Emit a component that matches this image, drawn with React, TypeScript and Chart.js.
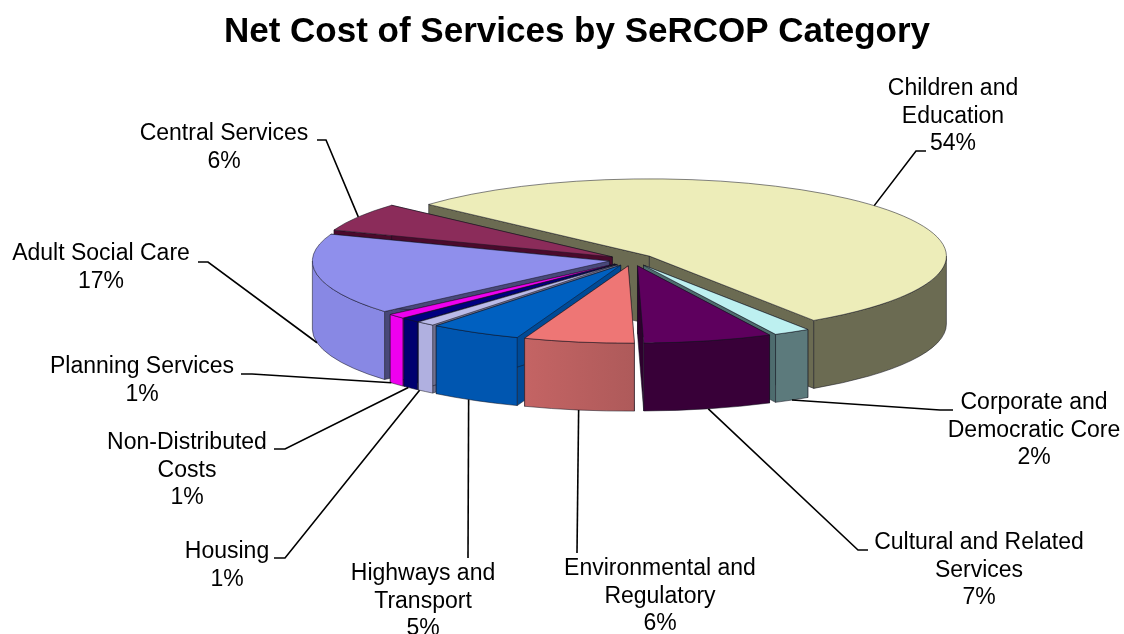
import React, { useEffect, useRef } from "react";
import { Chart, registerables } from "chart.js";

Chart.register(...registerables);

const categories = [
  "Children and Education",
  "Corporate and Democratic Core",
  "Cultural and Related Services",
  "Environmental and Regulatory",
  "Highways and Transport",
  "Housing",
  "Non-Distributed Costs",
  "Planning Services",
  "Adult Social Care",
  "Central Services",
];
const percentages = [54, 2, 7, 6, 5, 1, 1, 1, 17, 6];

const topColors = ["#EDEDB9", "#BDF0F0", "#5E005E", "#EE7675", "#0060C0", "#BABAE8", "#000080", "#F000F0", "#8F8FEC", "#8B2C5A"];
const rimColors = ["#6B6B52", "#5C7A7C", "#380038", "#C46464", "#0056B0", "#B0B0E0", "#000070", "#EE00EE", "#8888E4", "#5A1238"];
const cutColors = ["#6B6B52", "#4E6C6E", "#2E002E", "#A85656", "#004A96", "#70708E", "#000060", "#B000B0", "#484878", "#4A0A2C"];

// Wrapped label lines; the percentage line is appended from the data.
const labelLines = [
  ["Children and", "Education"],
  ["Corporate and", "Democratic Core"],
  ["Cultural and Related", "Services"],
  ["Environmental and", "Regulatory"],
  ["Highways and", "Transport"],
  ["Housing"],
  ["Non-Distributed", "Costs"],
  ["Planning Services"],
  ["Adult Social Care"],
  ["Central Services"],
];
// Label centre and first-line y, the leader's start, its elbow, and a small turn of its tip in degrees.
const labelLayout = [
  { x: 953, y: 89, from: [926, 151], elbow: [916, 151], turn: 0 },
  { x: 1034, y: 403, from: [953, 410], elbow: [940, 410], turn: 0 },
  { x: 979, y: 543, from: [868, 550], elbow: [858, 550], turn: 0 },
  { x: 660, y: 569, from: [577, 553], elbow: null, turn: 0 },
  { x: 423, y: 574, from: [468, 558], elbow: null, turn: 1.4 },
  { x: 227, y: 552, from: [274, 558], elbow: [285, 558], turn: 1.5 },
  { x: 187, y: 443, from: [274, 449], elbow: [285, 449], turn: 0.6 },
  { x: 142, y: 367, from: [241, 374], elbow: [252, 374], turn: 1.5 },
  { x: 101, y: 254, from: [198, 262], elbow: [208, 262], turn: 0 },
  { x: 224, y: 134, from: [317, 140], elbow: [326, 140], turn: 0 },
];

const CENTER_X = 632;
const CENTER_Y = 260;
const TILT = 0.26;
const DEPTH = 68;
const RADIUS = 297;
const EXPLODE = 23;

// Where a slice sits once pulled out along its bisector on the tilted plane.
const sliceGeometry = (arc: any) => {
  const mid = (arc.startAngle + arc.endAngle) / 2;
  return {
    mid,
    ax: CENTER_X + Math.cos(mid) * EXPLODE,
    ay: CENTER_Y + Math.sin(mid) * EXPLODE * TILT,
    r: arc.outerRadius,
  };
};

const rimPoint = (g: any, angle: number, drop = 0) => [
  g.ax + Math.cos(angle) * g.r,
  g.ay + Math.sin(angle) * g.r * TILT + drop,
];

// Angle spans of an arc that lie on the near half of the disc.
const nearSpans = (a: number, b: number) => {
  const spans: number[][] = [];
  for (const k of [-2, 0, 2]) {
    const lo = Math.max(a, k * Math.PI);
    const hi = Math.min(b, (k + 1) * Math.PI);
    if (hi > lo) spans.push([lo, hi]);
  }
  return spans;
};

const pie3d = {
  id: "pie3d",
  beforeDatasetDraw(chart: any, args: any) {
    const { ctx } = chart;
    const arcs = [...args.meta.data];
    // Paint from the far side of the disc towards the viewer.
    const order = arcs
      .map((arc: any, i: number) => ({ arc, i, near: Math.sin((arc.startAngle + arc.endAngle) / 2) }))
      .sort((p, q) => p.near - q.near);

    for (const { arc, i } of order) {
      const g = sliceGeometry(arc);
      ctx.save();
      ctx.lineWidth = 0.7;
      ctx.strokeStyle = "rgba(20,20,30,0.75)";
      ctx.lineJoin = "round";

      // Cut faces running from the apex out to each end of the slice.
      for (const angle of [arc.startAngle, arc.endAngle]) {
        const p = rimPoint(g, angle);
        ctx.beginPath();
        ctx.moveTo(g.ax, g.ay);
        ctx.lineTo(p[0], p[1]);
        ctx.lineTo(p[0], p[1] + DEPTH);
        ctx.lineTo(g.ax, g.ay + DEPTH);
        ctx.closePath();
        ctx.fillStyle = cutColors[i];
        ctx.fill();
        ctx.stroke();
      }

      // Curved outer wall, only where it faces the viewer.
      for (const [lo, hi] of nearSpans(arc.startAngle, arc.endAngle)) {
        const left = rimPoint(g, hi);
        const right = rimPoint(g, lo);
        const shade = ctx.createLinearGradient(Math.min(left[0], right[0]), 0, Math.max(left[0], right[0]), 0);
        shade.addColorStop(0, rimColors[i]);
        shade.addColorStop(1, i === 3 ? "#AE5A5A" : rimColors[i]);
        ctx.beginPath();
        ctx.ellipse(g.ax, g.ay, g.r, g.r * TILT, 0, lo, hi);
        ctx.ellipse(g.ax, g.ay + DEPTH, g.r, g.r * TILT, 0, hi, lo, true);
        ctx.closePath();
        ctx.fillStyle = shade;
        ctx.fill();
        ctx.stroke();
      }

      // Top face: the library's own arc, squashed onto the tilted plane.
      ctx.save();
      ctx.translate(g.ax, g.ay);
      ctx.scale(1, TILT);
      ctx.translate(-arc.x, -arc.y);
      arc.draw(ctx);
      ctx.restore();

      ctx.beginPath();
      ctx.moveTo(g.ax, g.ay);
      ctx.ellipse(g.ax, g.ay, g.r, g.r * TILT, 0, arc.startAngle, arc.endAngle);
      ctx.closePath();
      ctx.stroke();
      ctx.restore();
    }
    return false;
  },
  afterDatasetsDraw(chart: any) {
    const { ctx } = chart;
    const arcs = chart.getDatasetMeta(0).data;
    ctx.save();
    ctx.textAlign = "center";
    ctx.textBaseline = "middle";
    ctx.font = '23px "Liberation Sans"';
    ctx.fillStyle = "#000";
    ctx.strokeStyle = "#000";
    ctx.lineWidth = 1.6;
    arcs.forEach((arc: any, i: number) => {
      const g = sliceGeometry(arc);
      const spot = labelLayout[i];
      const tipAngle = g.mid + (spot.turn * Math.PI) / 180;
      const end = rimPoint(g, tipAngle, Math.sin(g.mid) > 0 ? DEPTH : 0);
      ctx.beginPath();
      ctx.moveTo(spot.from[0], spot.from[1]);
      if (spot.elbow) ctx.lineTo(spot.elbow[0], spot.elbow[1]);
      ctx.lineTo(end[0], end[1]);
      ctx.stroke();
      [...labelLines[i], `${percentages[i]}%`].forEach((line, n) => {
        ctx.fillText(line, spot.x, spot.y + n * 27.5);
      });
    });
    ctx.restore();
  },
};

export default function App() {
  const ref = useRef<HTMLCanvasElement>(null);
  useEffect(() => {
    const chart = new Chart(ref.current!, {
      type: "pie",
      data: {
        labels: categories,
        datasets: [
          {
            data: percentages,
            backgroundColor: topColors,
            borderWidth: 0,
          },
        ],
      },
      options: {
        responsive: false,
        animation: false,
        rotation: -48,
        radius: RADIUS,
        layout: { padding: { left: 30 } },
        plugins: {
          legend: { display: false },
          tooltip: { enabled: false },
          title: {
            display: true,
            text: "Net Cost of Services by SeRCOP Category",
            fullSize: false,
            color: "#000",
            font: { family: '"Liberation Sans"', size: 35, weight: "bold" },
            padding: { top: 11, bottom: 10 },
          },
        },
      },
      plugins: [pie3d],
    } as any);
    return () => chart.destroy();
  }, []);
  return (
    <canvas
      ref={ref}
      width={1124}
      height={634}
      style={{ position: "absolute", left: 0, top: 0, display: "block" }}
    />
  );
}
